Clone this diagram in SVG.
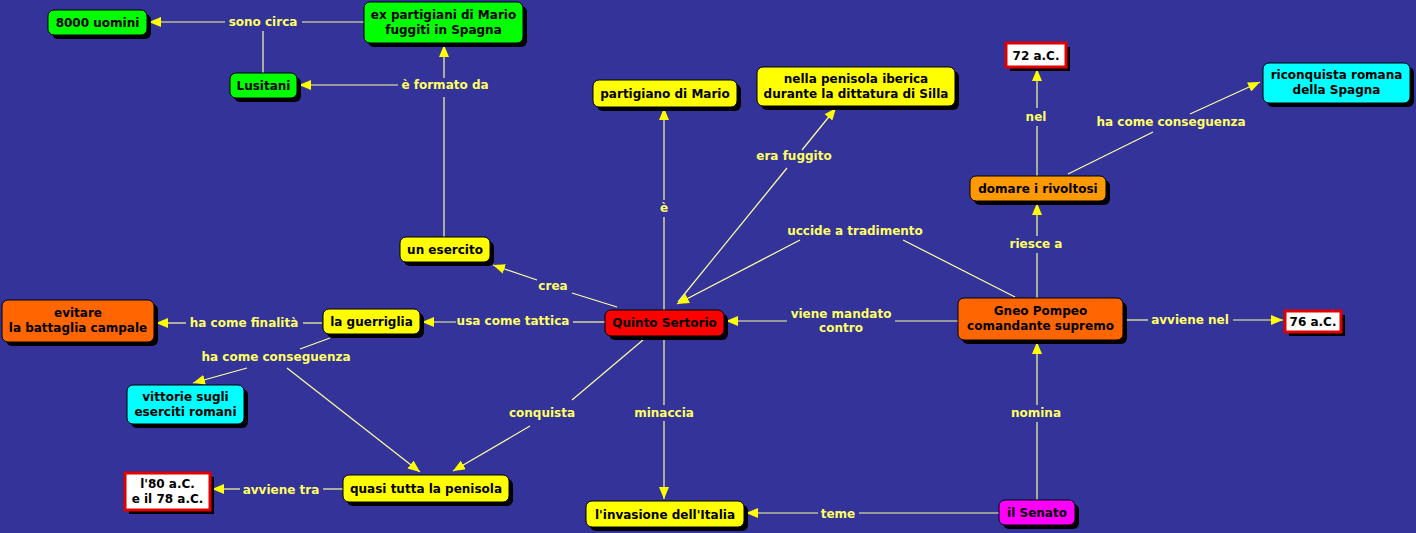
<svg xmlns="http://www.w3.org/2000/svg" width="1416" height="533" viewBox="0 0 1416 533">
<style>
.bg{fill:#333399}
.sh{fill:#000}
.n{stroke:#000;stroke-width:1}
.d{fill:#fff;stroke:#e00000;stroke-width:3}
text{font-family:"DejaVu Sans","Liberation Sans",sans-serif;font-weight:bold;font-size:12px;text-anchor:middle}
.t{fill:#000}
.l{fill:#ffff66}
.c line{stroke:#ffffa0;stroke-width:1.2}
</style>
<defs>
<marker id="a" viewBox="0 0 12 10" refX="12" refY="5" markerWidth="12" markerHeight="10" orient="auto" markerUnits="userSpaceOnUse"><path d="M0,0 L12,5 L0,10 z" fill="#ffff00"/></marker>
</defs>
<rect class="bg" x="0" y="0" width="1416" height="533"/>
<g class="c" id="connectors">
<line x1="364" y1="22" x2="302" y2="22"/><line x1="225" y1="22" x2="149" y2="22" marker-end="url(#a)"/>
<line x1="263" y1="73" x2="263" y2="31"/>
<line x1="444" y1="237" x2="444" y2="97"/><line x1="444" y1="78" x2="444" y2="45" marker-end="url(#a)"/><line x1="398" y1="85" x2="299" y2="85" marker-end="url(#a)"/>
<line x1="664" y1="310" x2="664" y2="217"/><line x1="664" y1="200" x2="664" y2="108" marker-end="url(#a)"/>
<line x1="678" y1="302" x2="787" y2="168"/><line x1="802" y1="150" x2="836" y2="108" marker-end="url(#a)"/>
<line x1="1015" y1="297" x2="903" y2="240"/><line x1="800" y1="240" x2="677" y2="304" marker-end="url(#a)"/>
<line x1="1037" y1="298" x2="1037" y2="253"/><line x1="1037" y1="236" x2="1037" y2="203" marker-end="url(#a)"/>
<line x1="1037" y1="176" x2="1037" y2="126"/><line x1="1037" y1="108" x2="1037" y2="69" marker-end="url(#a)"/>
<line x1="1068" y1="174" x2="1153" y2="132"/><line x1="1190" y1="114" x2="1260" y2="82" marker-end="url(#a)"/>
<line x1="958" y1="321" x2="895" y2="321"/><line x1="787" y1="321" x2="726" y2="321" marker-end="url(#a)"/>
<line x1="1123" y1="320" x2="1148" y2="320"/><line x1="1233" y1="320" x2="1283" y2="320" marker-end="url(#a)"/>
<line x1="1037" y1="500" x2="1037" y2="422"/><line x1="1037" y1="405" x2="1037" y2="342" marker-end="url(#a)"/>
<line x1="999" y1="513" x2="859" y2="513"/><line x1="818" y1="513" x2="746" y2="513" marker-end="url(#a)"/>
<line x1="664" y1="336" x2="664" y2="405"/><line x1="664" y1="421" x2="664" y2="499" marker-end="url(#a)"/>
<line x1="643" y1="340" x2="572" y2="400"/><line x1="530" y1="426" x2="453" y2="471" marker-end="url(#a)"/>
<line x1="605" y1="322" x2="573" y2="322"/><line x1="456" y1="322" x2="422" y2="322" marker-end="url(#a)"/>
<line x1="617" y1="307" x2="572" y2="293"/><line x1="537" y1="280" x2="493" y2="265" marker-end="url(#a)"/>
<line x1="322" y1="323" x2="303" y2="323"/><line x1="186" y1="323" x2="156" y2="323" marker-end="url(#a)"/>
<line x1="330" y1="338" x2="300" y2="349"/><line x1="247" y1="368" x2="193" y2="383" marker-end="url(#a)"/><line x1="287" y1="368" x2="420" y2="472" marker-end="url(#a)"/>
<line x1="343" y1="489" x2="323" y2="489"/><line x1="240" y1="489" x2="212" y2="489" marker-end="url(#a)"/>
<text class="l" x="263" y="26">sono circa</text>
<text class="l" x="445" y="89">è formato da</text>
<text class="l" x="664" y="212">è</text>
<text class="l" x="794" y="160">era fuggito</text>
<text class="l" x="1036" y="121">nel</text>
<text class="l" x="1171" y="126">ha come conseguenza</text>
<text class="l" x="855" y="235">uccide a tradimento</text>
<text class="l" x="1036" y="248">riesce a</text>
<text class="l" x="553" y="290">crea</text>
<text class="l" x="513" y="325">usa come tattica</text>
<text class="l" x="841" y="318">viene mandato</text>
<text class="l" x="841" y="332">contro</text>
<text class="l" x="1190" y="324">avviene nel</text>
<text class="l" x="244" y="327">ha come finalità</text>
<text class="l" x="276" y="361">ha come conseguenza</text>
<text class="l" x="542" y="417">conquista</text>
<text class="l" x="664" y="417">minaccia</text>
<text class="l" x="1036" y="417">nomina</text>
<text class="l" x="281" y="494">avviene tra</text>
<text class="l" x="838" y="518">teme</text>
</g>
<g id="n1"><rect class="sh" x="52" y="14" width="99" height="25" rx="6"/><rect class="n" x="48" y="10" width="99" height="25" rx="6" fill="#00ff00"/><text class="t" x="97.5" y="26.5">8000 uomini</text></g>
<g id="n2"><rect class="sh" x="368" y="6" width="159" height="41" rx="6"/><rect class="n" x="364" y="2" width="159" height="41" rx="6" fill="#00ff00"/><text class="t" x="443.5" y="19">ex partigiani di Mario</text><text class="t" x="443.5" y="34">fuggiti in Spagna</text></g>
<g id="n3"><rect class="sh" x="234" y="77" width="67" height="25" rx="6"/><rect class="n" x="230" y="73" width="67" height="25" rx="6" fill="#00ff00"/><text class="t" x="263.5" y="89.5">Lusitani</text></g>
<g id="n4"><rect class="sh" x="404" y="241" width="90" height="25" rx="6"/><rect class="n" x="400" y="237" width="90" height="25" rx="6" fill="#ffff00"/><text class="t" x="445" y="253.5">un esercito</text></g>
<g id="n5"><rect class="sh" x="597" y="84" width="144" height="27" rx="6"/><rect class="n" x="593" y="80" width="144" height="27" rx="6" fill="#ffff00"/><text class="t" x="665" y="97.5">partigiano di Mario</text></g>
<g id="n6"><rect class="sh" x="761" y="71" width="198" height="39" rx="6"/><rect class="n" x="757" y="67" width="198" height="39" rx="6" fill="#ffff00"/><text class="t" x="856" y="83">nella penisola iberica</text><text class="t" x="856" y="98">durante la dittatura di Silla</text></g>
<g id="n7"><rect class="sh" x="1010" y="47" width="60" height="24"/><rect class="d" x="1006" y="43" width="60" height="24"/><text class="t" x="1036" y="59.5">72 a.C.</text></g>
<g id="n8"><rect class="sh" x="1267" y="67" width="147" height="40" rx="6"/><rect class="n" x="1263" y="63" width="147" height="40" rx="6" fill="#00ffff"/><text class="t" x="1336.5" y="79">riconquista romana</text><text class="t" x="1336.5" y="94">della Spagna</text></g>
<g id="n9"><rect class="sh" x="974" y="180" width="136" height="25" rx="6"/><rect class="n" x="970" y="176" width="136" height="25" rx="6" fill="#ff9900"/><text class="t" x="1038" y="192.5">domare i rivoltosi</text></g>
<g id="n10"><rect class="sh" x="962" y="302" width="165" height="42" rx="6"/><rect class="n" x="958" y="298" width="165" height="42" rx="6" fill="#ff6600"/><text class="t" x="1040.5" y="315">Gneo Pompeo</text><text class="t" x="1040.5" y="330">comandante supremo</text></g>
<g id="n11"><rect class="sh" x="1289" y="315" width="56" height="21"/><rect class="d" x="1285" y="311" width="56" height="21"/><text class="t" x="1313" y="326">76 a.C.</text></g>
<g id="n12"><rect class="sh" x="609" y="314" width="119" height="26" rx="6"/><rect class="n" x="605" y="310" width="119" height="26" rx="6" fill="#ff0000"/><text class="t" x="664.5" y="327">Quinto Sertorio</text></g>
<g id="n13"><rect class="sh" x="327" y="313" width="97" height="25" rx="6"/><rect class="n" x="323" y="309" width="97" height="25" rx="6" fill="#ffff00"/><text class="t" x="371.5" y="325.5">la guerriglia</text></g>
<g id="n14"><rect class="sh" x="6" y="304" width="152" height="42" rx="6"/><rect class="n" x="2" y="300" width="152" height="42" rx="6" fill="#ff6600"/><text class="t" x="78" y="317">evitare</text><text class="t" x="78" y="332">la battaglia campale</text></g>
<g id="n15"><rect class="sh" x="131" y="389" width="117" height="39" rx="6"/><rect class="n" x="127" y="385" width="117" height="39" rx="6" fill="#00ffff"/><text class="t" x="185.5" y="401">vittorie sugli</text><text class="t" x="185.5" y="416">eserciti romani</text></g>
<g id="n16"><rect class="sh" x="347" y="479" width="166" height="27" rx="6"/><rect class="n" x="343" y="475" width="166" height="27" rx="6" fill="#ffff00"/><text class="t" x="426" y="492.5">quasi tutta la penisola</text></g>
<g id="n17"><rect class="sh" x="129" y="477" width="85" height="37"/><rect class="d" x="125" y="473" width="85" height="37"/><text class="t" x="167.5" y="488">l'80 a.C.</text><text class="t" x="167.5" y="503">e il 78 a.C.</text></g>
<g id="n18"><rect class="sh" x="590" y="505" width="158" height="26" rx="6"/><rect class="n" x="586" y="501" width="158" height="26" rx="6" fill="#ffff00"/><text class="t" x="665" y="518.5">l'invasione dell'Italia</text></g>
<g id="n19"><rect class="sh" x="1003" y="504" width="76" height="25" rx="6"/><rect class="n" x="999" y="500" width="76" height="25" rx="6" fill="#ff00ff"/><text class="t" x="1037" y="516.5">il Senato</text></g>
</svg>
